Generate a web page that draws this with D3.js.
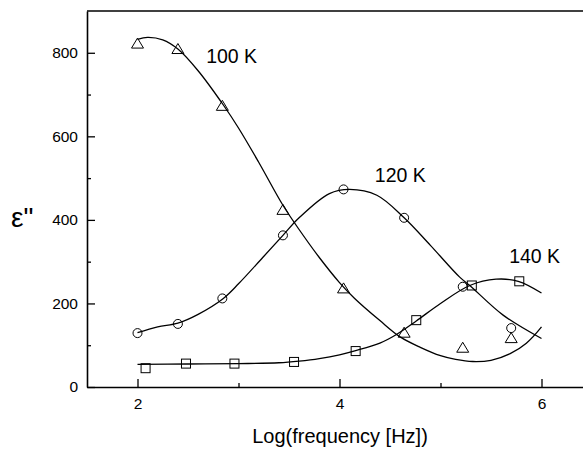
<!DOCTYPE html>
<html>
<head>
<meta charset="utf-8">
<script src="https://cdn.jsdelivr.net/npm/d3@7"></script>
<style>
  html, body { margin: 0; padding: 0; background: #fff; }
  svg { display: block; }
  text { font-family: "Liberation Sans", Arial, sans-serif; fill: #000; }
</style>
</head>
<body>
<svg id="chart" width="583" height="450"></svg>
<script>
// Measured dielectric loss points at three temperatures
const logFreq100 = [2.0, 2.4, 2.84, 3.44, 4.04, 4.64, 5.22, 5.70];
const eps100     = [822, 809, 673, 424, 236, 130, 94, 117];
const logFreq120 = [2.0, 2.4, 2.84, 3.44, 4.04, 4.64, 5.22, 5.70];
const eps120     = [129, 151, 212, 363, 473, 405, 240, 141];
const logFreq140 = [2.08, 2.48, 2.96, 3.55, 4.16, 4.76, 5.31, 5.78];
const eps140     = [45, 56, 56, 60, 86, 160, 243, 253];

// Fitted curves, sampled along log(frequency)
const fitX100 = [2.0, 2.1, 2.25, 2.4, 2.6, 2.85, 3.0, 3.2, 3.44, 3.6, 3.8, 4.0, 4.15, 4.4, 4.6, 4.8, 5.0, 5.15, 5.32, 5.5, 5.69, 5.85, 6.0];
const fitY100 = [832, 837, 831, 809, 757, 675, 620, 538, 435, 377, 310, 250, 212, 159, 120, 95, 75, 66, 61, 64, 80, 105, 144];
const fitX120 = [2.0, 2.2, 2.4, 2.6, 2.85, 3.0, 3.24, 3.44, 3.6, 3.9, 4.1, 4.37, 4.64, 4.9, 5.19, 5.29, 5.62, 6.0];
const fitY120 = [130, 144, 153, 174, 212, 247, 310, 363, 405, 463, 473, 459, 405, 339, 263, 243, 172, 116];
const fitX140 = [2.0, 2.5, 3.0, 3.4, 3.6, 3.8, 4.0, 4.16, 4.4, 4.56, 4.76, 5.0, 5.29, 5.55, 5.77, 6.0];
const fitY140 = [54, 55, 56, 58, 62, 68, 77, 87, 105, 125, 158, 200, 243, 258, 253, 225];

// Axis ticks
const xMajor = [2, 4, 6];
const xMinor = [3, 5];
const yMajor = [0, 200, 400, 600, 800];
const yMinor = [100, 300, 500, 700];

// Curve labels
const labelText = ["100 K", "120 K", "140 K"];
const labelX    = [2.68, 4.35, 5.68];
const labelY    = [775, 490, 298];

const svg = d3.select("#chart");
const plotLeft = 87, plotRight = 592, plotTop = 11, plotBottom = 387;

const x = d3.scaleLinear().domain([1.5, 6.5]).range([plotLeft, plotRight]);
const y = d3.scaleLinear().domain([0, 900]).range([plotBottom, plotTop]);

// Frame: top border
svg.append("line")
  .attr("x1", plotLeft).attr("x2", plotRight)
  .attr("y1", plotTop).attr("y2", plotTop)
  .attr("stroke", "#000").attr("stroke-width", 1.6);

// Axes with inward ticks
function styleAxis(g) {
  g.select(".domain").attr("stroke", "#000").attr("stroke-width", 1.6);
  g.selectAll(".tick line").attr("stroke", "#000").attr("stroke-width", 1.3);
  g.selectAll(".tick text").style("font-size", "15.5px")
    .style("font-family", "'Liberation Sans', Arial, sans-serif");
}

svg.append("g").attr("transform", `translate(0,${plotBottom})`)
  .call(d3.axisBottom(x).tickValues(xMinor).tickSize(-4).tickSizeOuter(0).tickFormat(""))
  .call(g => g.select(".domain").remove())
  .call(styleAxis);
svg.append("g").attr("transform", `translate(0,${plotBottom})`)
  .call(d3.axisBottom(x).tickValues(xMajor).tickSize(-8).tickSizeOuter(0).tickPadding(11).tickFormat(d3.format("d")))
  .call(styleAxis);

svg.append("g").attr("transform", `translate(${plotLeft},0)`)
  .call(d3.axisLeft(y).tickValues(yMinor).tickSize(-4).tickSizeOuter(0).tickFormat(""))
  .call(g => g.select(".domain").remove())
  .call(styleAxis);
svg.append("g").attr("transform", `translate(${plotLeft},0)`)
  .call(d3.axisLeft(y).tickValues(yMajor).tickSize(-8).tickSizeOuter(0).tickPadding(9).tickFormat(d3.format("d")))
  .call(styleAxis);

// Axis titles
svg.append("text")
  .attr("x", 340).attr("y", 443)
  .attr("text-anchor", "middle")
  .style("font-size", "20px")
  .text("Log(frequency [Hz])");

svg.append("text")
  .attr("x", 11).attr("y", 227)
  .style("font-size", "28px")
  .text("ε\"");

// Fitted curves
const line = d3.line()
  .x(d => x(d[0])).y(d => y(d[1]))
  .curve(d3.curveCatmullRom.alpha(0.5));

[[fitX100, fitY100], [fitX120, fitY120], [fitX140, fitY140]].forEach(([xs, ys]) => {
  svg.append("path")
    .datum(xs.map((v, i) => [v, ys[i]]))
    .attr("d", line)
    .attr("fill", "none")
    .attr("stroke", "#000")
    .attr("stroke-width", 1.3);
});

// Markers: triangles (100 K), circles (120 K), squares (140 K)
const marks = svg.append("g").attr("fill", "none").attr("stroke", "#000").attr("stroke-width", 1);

marks.selectAll(".tri")
  .data(logFreq100.map((v, i) => [v, eps100[i]]))
  .join("path")
  .attr("transform", d => `translate(${x(d[0])},${y(d[1])})`)
  .attr("d", "M0,-5.5L6,4.5L-6,4.5Z");

marks.selectAll(".circ")
  .data(logFreq120.map((v, i) => [v, eps120[i]]))
  .join("circle")
  .attr("cx", d => x(d[0])).attr("cy", d => y(d[1]))
  .attr("r", 4.5);

marks.selectAll(".sq")
  .data(logFreq140.map((v, i) => [v, eps140[i]]))
  .join("rect")
  .attr("x", d => x(d[0]) - 4.5).attr("y", d => y(d[1]) - 4.5)
  .attr("width", 9).attr("height", 9);

// Temperature labels
labelText.forEach((t, i) => {
  svg.append("text")
    .attr("x", x(labelX[i])).attr("y", y(labelY[i]))
    .style("font-size", "19.5px")
    .text(t);
});
</script>
</body>
</html>
